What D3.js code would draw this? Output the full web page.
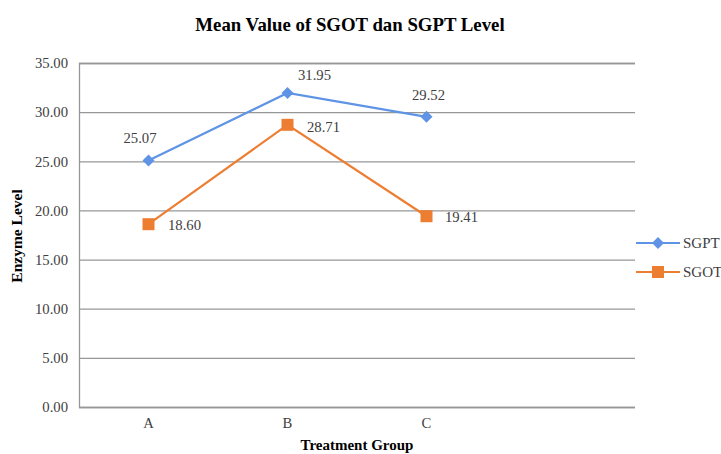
<!DOCTYPE html>
<html><head><meta charset="utf-8">
<script src="https://cdn.jsdelivr.net/npm/d3@7"></script>
<style>body{margin:0;background:#fff}svg{display:block}</style>
</head><body>
<svg id="c" width="721" height="454"></svg>
<script>
const categories = ["A", "B", "C", ""];
const sgpt = [25.07, 31.95, 29.52];
const sgot = [18.60, 28.71, 19.41];
const yTicks = [0, 5, 10, 15, 20, 25, 30, 35];
const seriesNames = ["SGPT", "SGOT"];

const svg = d3.select("#c");
const M = {left: 79, right: 635, top: 63, bottom: 407};
const x = d3.scaleBand().domain(categories).range([M.left, M.right]);
const y = d3.scaleLinear().domain([0, 35]).range([M.bottom, M.top]);
const cx = c => x(c) + x.bandwidth() / 2;
const serif = "'Liberation Serif','Times New Roman',serif";
const txt = "#404040";

svg.append("text").attr("x", 350).attr("y", 31).attr("text-anchor", "middle")
  .attr("font-family", serif).attr("font-weight", "bold").attr("font-size", 18.8)
  .attr("fill", "#000").text("Mean Value of SGOT dan SGPT Level");

// grid
const yAxis = d3.axisLeft(y).tickValues(yTicks).tickFormat(d3.format(".2f"))
  .tickSize(-(M.right - M.left)).tickPadding(11);
const gy = svg.append("g").attr("transform", `translate(${M.left},0)`).call(yAxis);
gy.select(".domain").attr("stroke", "#979797").attr("stroke-width", 1.3);
gy.selectAll(".tick line").attr("stroke", "#979797").attr("stroke-width", 1.3);
gy.selectAll(".tick text").attr("font-family", serif).attr("font-size", 14.7).attr("fill", txt);

const xAxis = d3.axisBottom(x).tickSize(0).tickPadding(11);
const gx = svg.append("g").attr("transform", `translate(0,${M.bottom})`).call(xAxis);
gx.select(".domain").remove();
gx.selectAll(".tick text").attr("font-family", serif).attr("font-size", 14.7).attr("fill", txt);

svg.append("text").attr("transform", `translate(22,${236}) rotate(-90)`)
  .attr("text-anchor", "middle").attr("font-family", serif).attr("font-weight", "bold")
  .attr("font-size", 15.5).attr("fill", "#000").text("Enzyme Level");
svg.append("text").attr("x", (M.left + M.right) / 2).attr("y", 450).attr("text-anchor", "middle")
  .attr("font-family", serif).attr("font-weight", "bold").attr("font-size", 15)
  .attr("fill", "#000").text("Treatment Group");

const blue = "#5f93e6", orange = "#ed7d31";
const line = d3.line().x((d, i) => cx(categories[i])).y(d => y(d));
svg.append("path").datum(sgpt).attr("d", line).attr("fill", "none").attr("stroke", blue).attr("stroke-width", 2.2);
svg.append("path").datum(sgot).attr("d", line).attr("fill", "none").attr("stroke", orange).attr("stroke-width", 2.2);

const diamond = d3.symbol().type(d3.symbolDiamond2 || d3.symbolDiamond).size(92);
const square = d3.symbol().type(d3.symbolSquare).size(144);
svg.selectAll(".dm").data(sgpt).join("path")
  .attr("transform", (d, i) => `translate(${cx(categories[i])},${y(d)})`)
  .attr("d", diamond).attr("fill", blue);
svg.selectAll(".sq").data(sgot).join("path")
  .attr("transform", (d, i) => `translate(${cx(categories[i])},${y(d)})`)
  .attr("d", square).attr("fill", orange);

// labels
const gptOff = [[-8.5, -17.5], [27, -13], [2, -17]];
svg.selectAll(".lg").data(sgpt).join("text")
  .attr("x", (d, i) => cx(categories[i]) + gptOff[i][0])
  .attr("y", (d, i) => y(d) + gptOff[i][1])
  .attr("text-anchor", "middle").attr("font-family", serif).attr("font-size", 14.7)
  .attr("fill", txt).text(d => d.toFixed(2));
const gotOff = [[19.5, 6], [19.5, 7], [18.5, 6]];
svg.selectAll(".lo").data(sgot).join("text")
  .attr("x", (d, i) => cx(categories[i]) + gotOff[i][0])
  .attr("y", (d, i) => y(d) + gotOff[i][1])
  .attr("font-family", serif).attr("font-size", 14.7)
  .attr("fill", txt).text(d => d.toFixed(2));

// legend
const leg = svg.append("g");
[[blue, diamond], [orange, square]].forEach((s, i) => {
  const yy = 243 + i * 29;
  leg.append("line").attr("x1", 636).attr("x2", 680).attr("y1", yy).attr("y2", yy)
    .attr("stroke", s[0]).attr("stroke-width", 2.2);
  leg.append("path").attr("transform", `translate(658,${yy})`).attr("d", s[1]).attr("fill", s[0]);
  leg.append("text").attr("x", 683).attr("y", yy + 5).attr("font-family", serif)
    .attr("font-size", 15).attr("fill", txt).text(seriesNames[i]);
});
</script>
</body></html>
